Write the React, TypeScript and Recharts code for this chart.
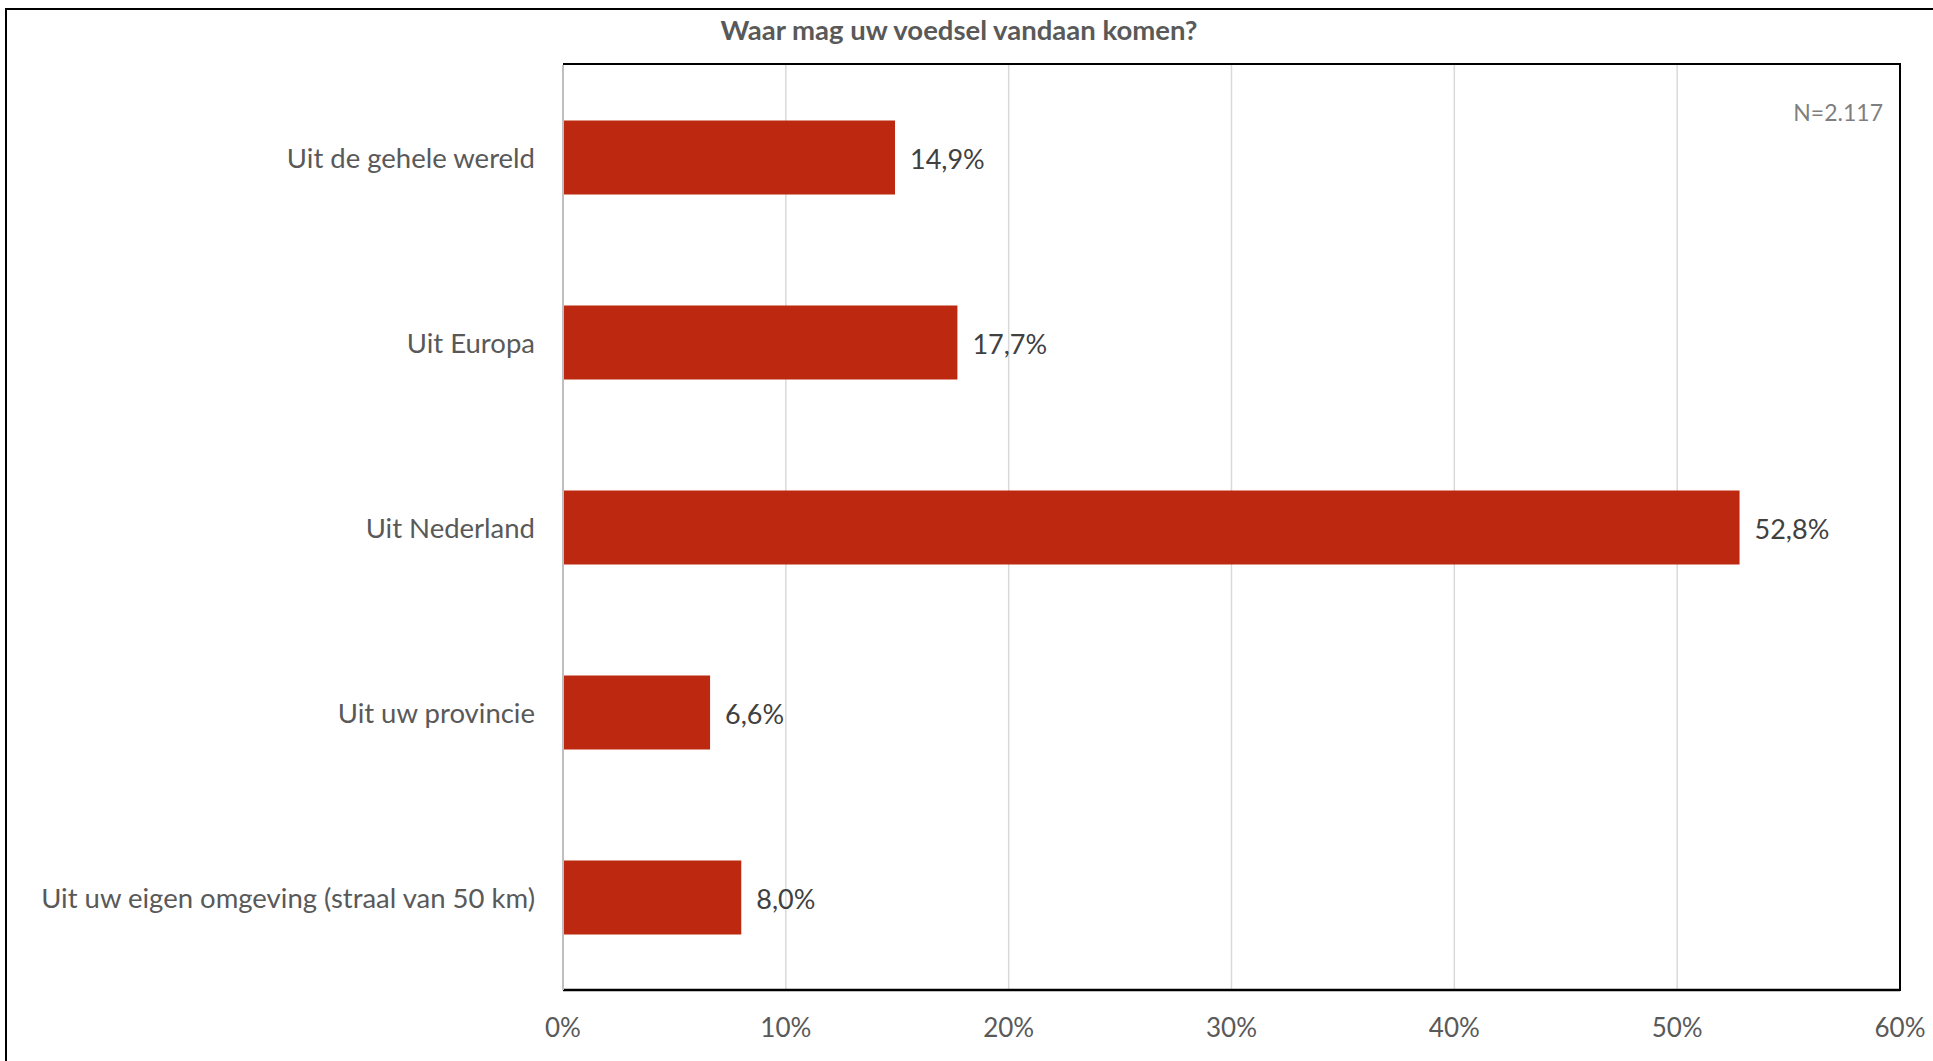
import { Bar, BarChart, CartesianGrid, LabelList, XAxis, YAxis } from "recharts";

const categories = [
  "Uit de gehele wereld",
  "Uit Europa",
  "Uit Nederland",
  "Uit uw provincie",
  "Uit uw eigen omgeving (straal van 50 km)",
];
const shares = [14.9, 17.7, 52.8, 6.6, 8.0];
const xTicks = [0, 10, 20, 30, 40, 50, 60];

const data = categories.map((name, i) => ({ name, value: shares[i] }));

const font = "Lato, 'Open Sans', sans-serif";

const fmtPct = (v: any) => `${Number(v).toFixed(1).replace(".", ",")}%`;

const App = () => {
  return (
    <div
      style={{
        position: "absolute",
        left: 0,
        top: 0,
        width: 1933,
        height: 1061,
        background: "#fff",
        fontFamily: font,
        overflow: "hidden",
      }}
    >
      {/* outer frame, runs off the right and bottom */}
      <div
        style={{
          position: "absolute",
          left: 5,
          top: 8,
          width: 2000,
          height: 1100,
          borderLeft: "2px solid #000",
          borderTop: "2px solid #000",
        }}
      />
      <div
        style={{
          position: "absolute",
          left: 0,
          width: 1918,
          top: 13,
          textAlign: "center",
          fontSize: 27.5,
          fontWeight: 700,
          color: "#595959",
        }}
      >
        Waar mag uw voedsel vandaan komen?
      </div>
      <BarChart
        width={1933}
        height={1061}
        data={data}
        layout="vertical"
        margin={{ top: 65, right: 33, bottom: 0, left: 0 }}
        barCategoryGap="30%"
        style={{ position: "absolute", left: 0, top: 0 }}
      >
        <CartesianGrid horizontal={false} stroke="#d9d9d9" strokeWidth={1.5} />
        <XAxis
          type="number"
          domain={[0, 60]}
          ticks={xTicks}
          tickFormatter={(v) => `${v}%`}
          height={71}
          axisLine={{ stroke: "#000", strokeWidth: 2.5 }}
          tickLine={false}
          tickMargin={23}
          tick={{ fill: "#595959", fontSize: 26, fontFamily: font }}
        />
        <YAxis
          type="category"
          dataKey="name"
          width={563}
          axisLine={{ stroke: "#bfbfbf", strokeWidth: 2 }}
          tickLine={false}
          tickMargin={22}
          tick={{ fill: "#595959", fontSize: 27.5, fontFamily: font, dy: 1 }}
        />
        <Bar dataKey="value" fill="#BD2811" isAnimationActive={false}>
          <LabelList
            dataKey="value"
            position="right"
            offset={15}
            formatter={fmtPct}
            style={{ fill: "#404040", fontSize: 27, fontFamily: font, transform: "translateY(2px)" }}
          />
        </Bar>
      </BarChart>
      {/* top and right edges of plot box */}
      <div
        style={{
          position: "absolute",
          left: 563,
          top: 63,
          width: 1336,
          height: 926,
          borderTop: "2.5px solid #000",
          borderRight: "2.5px solid #000",
          pointerEvents: "none",
        }}
      />
      <div
        style={{
          position: "absolute",
          right: 1933 - 1883,
          top: 98,
          fontSize: 23,
          color: "#7f7f7f",
        }}
      >
        N=2.117
      </div>
    </div>
  );
};

export default App;
